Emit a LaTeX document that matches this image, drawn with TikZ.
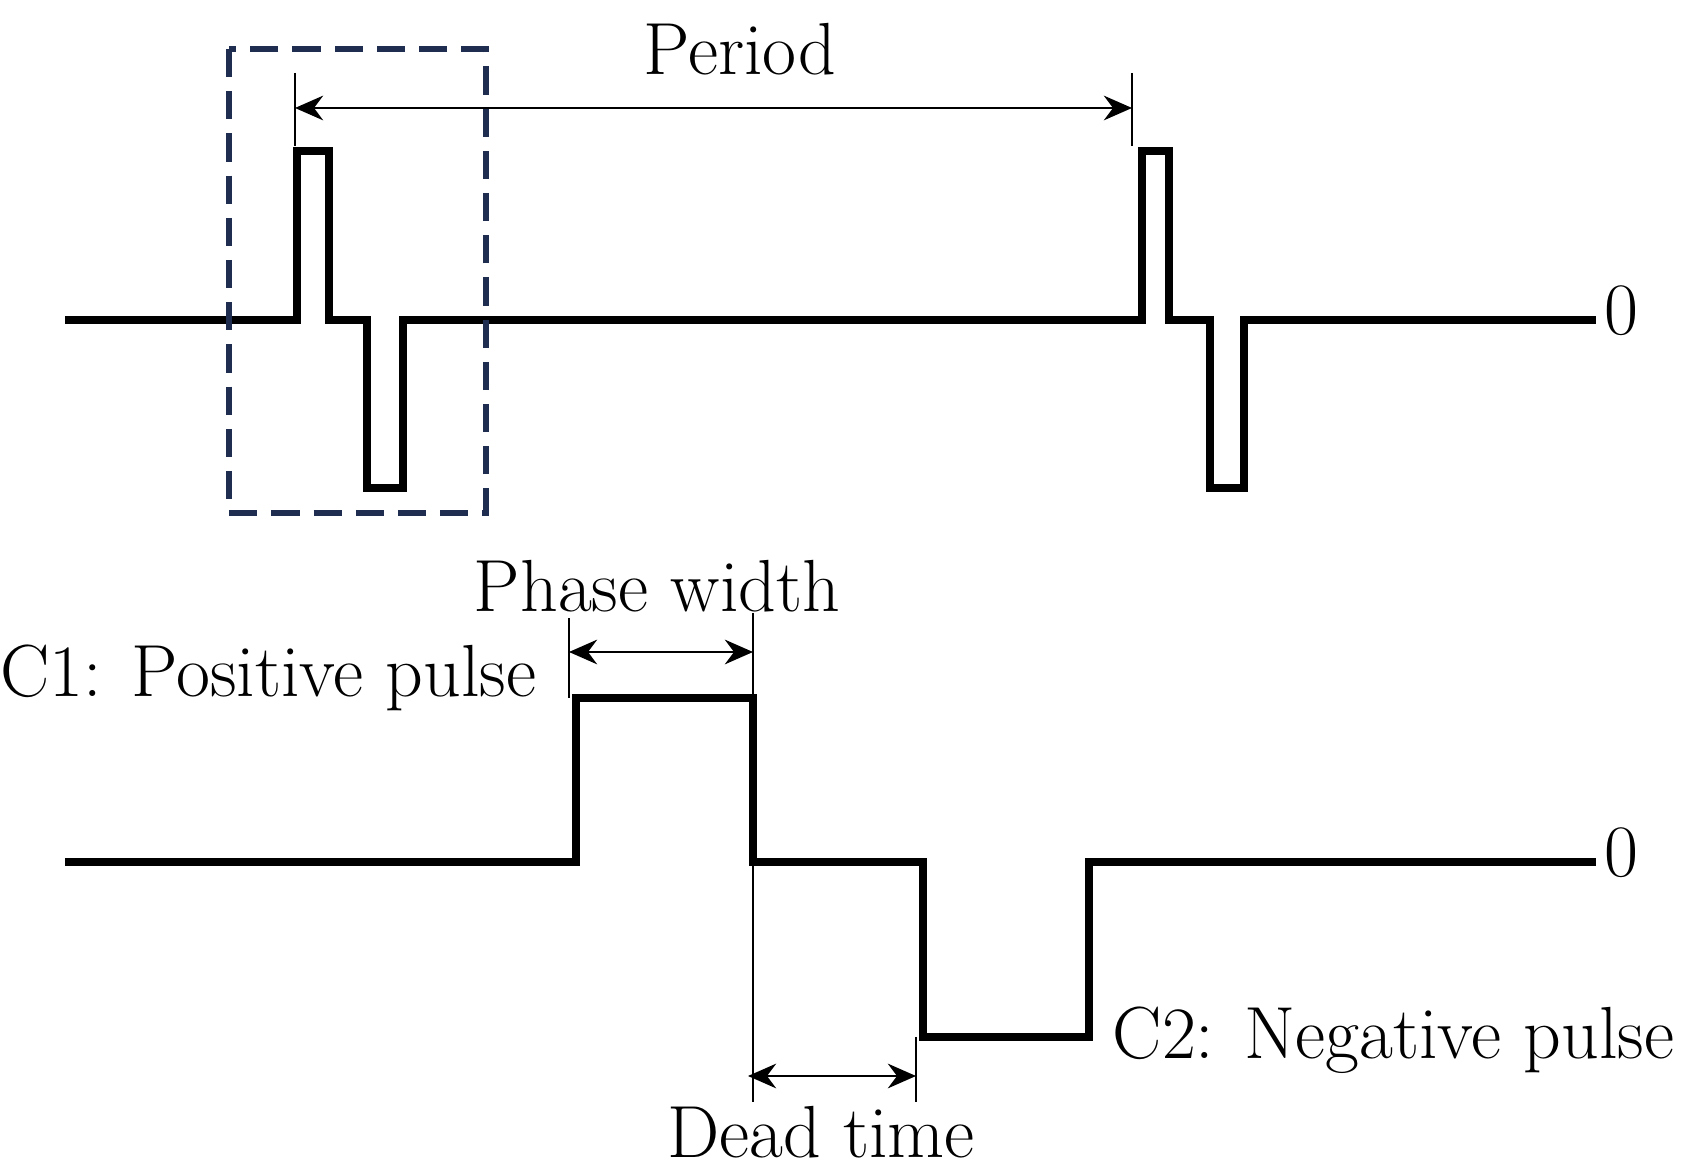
\documentclass[tikz,border=0pt]{standalone}
\usetikzlibrary{arrows.meta}
\begin{document}
\begin{tikzpicture}[x=0.01cm,y=-0.01cm,
 wave/.style={line width=2.2pt,line join=miter},
 thin/.style={line width=0.7pt},
 dim/.style={line width=0.7pt,{Stealth[length=8pt,width=7pt]}-{Stealth[length=8pt,width=7pt]}},
 lbl/.style={font=\fontsize{21}{25}\selectfont,inner sep=0pt}]
\useasboundingbox (0,0) rectangle (1685,1171);
% top waveform
\draw[wave] (65,320) -- (297,320) -- (297,151) -- (329,151) -- (329,320) -- (367,320) -- (367,488) -- (403,488) -- (403,320)
 -- (1142,320) -- (1142,151) -- (1169,151) -- (1169,320) -- (1210,320) -- (1210,488) -- (1244,488) -- (1244,320) -- (1596,320);
\node[lbl,anchor=west] (z1) at (1604,311) {0};
\draw[dashed,line width=1.6pt,color={rgb,255:red,30;green,45;blue,80},dash pattern=on 8pt off 4pt] (229,49) rectangle (486,513);
\coordinate (p1t) at (295,73); \coordinate (p1b) at (295,146);
\coordinate (p2t) at (1132,73); \coordinate (p2b) at (1132,146);
\draw[thin] (p1t) -- (p1b); \draw[thin] (p2t) -- (p2b);
\coordinate (pa) at (295,108); \coordinate (pb) at (1132,108);
\draw[dim] (pa) -- (pb);
\node[lbl] (period) at (740,49) {Period};
% bottom waveform
\draw[wave] (65,862) -- (576,862) -- (576,698) -- (753,698) -- (753,862) -- (923,862) -- (923,1037) -- (1089,1037) -- (1089,862) -- (1596,862);
\node[lbl,anchor=west] (z2) at (1604,853) {0};
\coordinate (a1) at (569,618); \coordinate (a1b) at (569,698);
\coordinate (a2) at (753,613); \coordinate (a2b) at (753,1102);
\coordinate (a3) at (916,1037); \coordinate (a3b) at (916,1102);
\draw[thin] (a1) -- (a1b); \draw[thin] (a2) -- (a2b); \draw[thin] (a3) -- (a3b);
\coordinate (w1) at (569,652); \coordinate (w2) at (753,652);
\draw[dim] (w1) -- (w2);
\coordinate (d1) at (748,1076); \coordinate (d2) at (916,1076);
\draw[dim] (d1) -- (d2);
\node[lbl] (pw) at (657,586) {Phase width};
\node[lbl,anchor=east] (c1) at (537,678) {C1: Positive pulse};
\node[lbl,anchor=west] (c2) at (1112,1040) {C2: Negative pulse};
\node[lbl] (dt) at (821,1132) {Dead time};
\end{tikzpicture}
\end{document}
